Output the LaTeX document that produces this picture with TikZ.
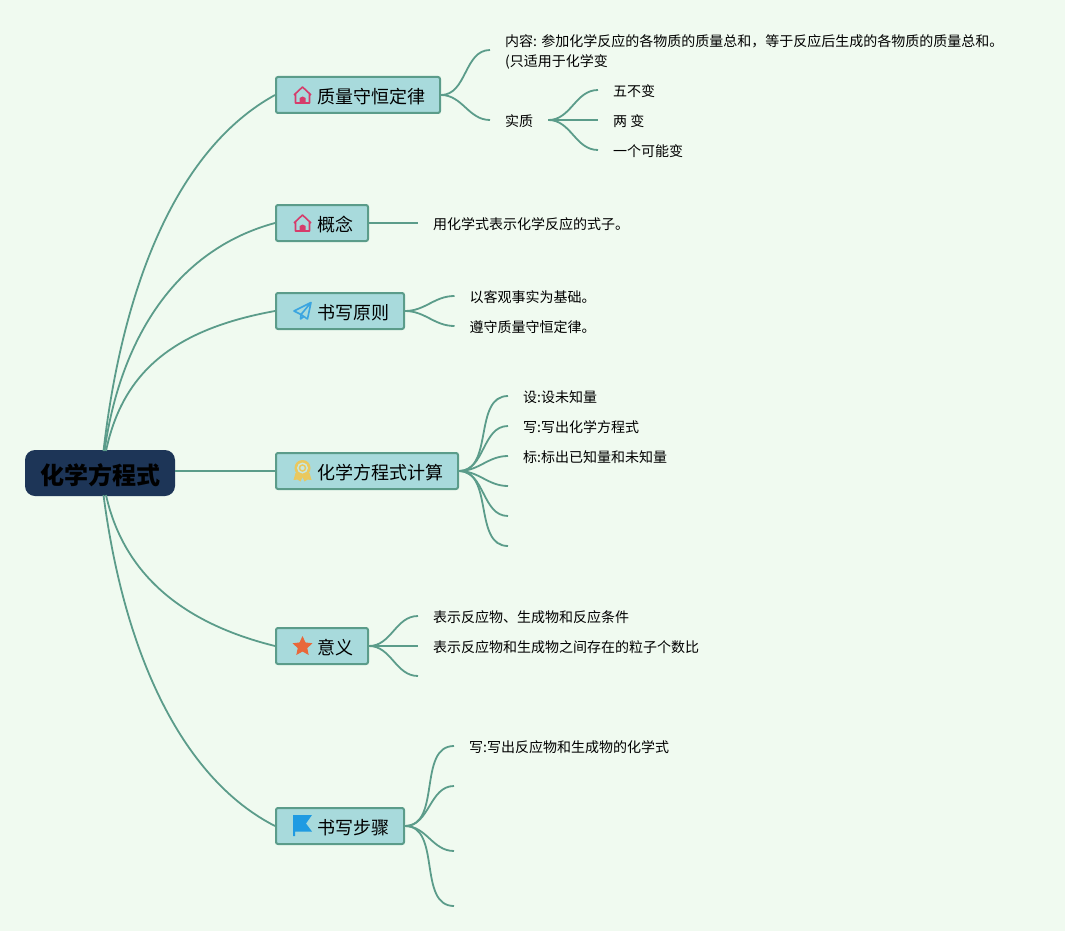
\documentclass[tikz,border=0pt]{standalone}
\usepackage{fontspec}
\setmainfont{Noto Sans CJK SC}
\usetikzlibrary{shapes.geometric}
\usepackage{xcolor}
\definecolor{pagebg}{HTML}{F0FAF0}
\definecolor{linkc}{HTML}{5B9C8A}
\definecolor{boxc}{HTML}{A8DADC}
\definecolor{rootc}{HTML}{1D3557}
\definecolor{housec}{HTML}{D63C6B}
\definecolor{planec}{HTML}{3BA5E0}
\definecolor{medalc}{HTML}{E9C85F}
\definecolor{starc}{HTML}{E8683A}
\definecolor{flagc}{HTML}{1F9BE2}
\tikzset{
	link/.style={draw=linkc,line width=1.8pt},
	rootbox/.style={fill=rootc,rounded corners=10pt,minimum width=150pt,minimum height=46pt,inner sep=0pt,text height=25pt,text depth=2.9pt,font=\fontsize{24}{28}\selectfont\bfseries},
	branchbox/.style={draw=linkc,fill=boxc,line width=2pt,rounded corners=2pt,minimum height=36pt,inner xsep=15pt,inner ysep=0pt,anchor=west,text height=19pt,text depth=2.2pt,font=\fontsize{18}{22}\selectfont},
	leaf/.style={anchor=west,inner xsep=15pt,inner ysep=0pt,text height=15.3pt,text depth=1.7pt,font=\fontsize{14}{20}\selectfont}
}
\newcommand{\houseicon}[1]{\begin{scope}[shift={(#1)}]
	\draw[housec,line width=1.6pt,line join=round] (-8.5,0)--(0,-8)--(8.5,0) (-7,-1)--(-7,8)--(7,8)--(7,-1);
	\fill[housec] (-3,8)--(-3,3)--(0,1.5)--(3,3)--(3,8)--cycle;
\end{scope}}
\newcommand{\planeicon}[1]{\begin{scope}[shift={(#1)}]
	\draw[planec,line width=1.6pt,line join=round] (-8.5,0)--(8.5,-8.5)--(5,8)--(-1.5,3.5)--cycle (8.5,-8.5)--(-1.5,3.5)--(-2,8)--(1.5,5.5);
\end{scope}}
\newcommand{\medalicon}[1]{\begin{scope}[shift={(#1)}]
	\fill[medalc] (-7,2)--(-9,9)--(-5,8.5)--(-2,10.5)--(0,6)--(2,10.5)--(5,8.5)--(9,9)--(7,2)--cycle;
	\fill[medalc] (0,-3) circle (8);
	\fill[pagebg!40!boxc] (0,-3) circle (5.5);
	\draw[medalc,line width=1.5pt] (0,-3) circle (3);
\end{scope}}
\newcommand{\flagicon}[1]{\begin{scope}[shift={(#1)}]
	\fill[flagc] (-9.5,-11)--(9.5,-11)--(3.5,-2.5)--(9.5,5.5)--(-7.5,5.5)--(-7.5,10)--(-9.5,10)--cycle;
\end{scope}}
\begin{document}
\begin{tikzpicture}[x=1pt,y=-1pt]
	\useasboundingbox (0,0) rectangle (1065,931);
	\fill[pagebg] (0,0) rectangle (1065,931);
	% root and its start points
	\node[rootbox] (root) at (100,473) {化学方程式};
	\coordinate (rootup) at (103.5,451);
	\coordinate (rootupb) at (104.5,451);
	\coordinate (rootupc) at (106,451);
	\coordinate (rootdown) at (103.5,495);
	\coordinate (rootdownb) at (106,495);
	\coordinate (rootmid) at (175,471);
	% branches
	\node[branchbox] (mass) at (275,95) {\hspace{26pt}质量守恒定律};
	\node[branchbox] (idea) at (275,223) {\hspace{26pt}概念};
	\node[branchbox] (rule) at (275,311) {\hspace{26pt}书写原则};
	\node[branchbox] (calc) at (275,471) {\hspace{26pt}化学方程式计算};
	\node[branchbox] (sense) at (275,646) {\hspace{26pt}意义};
	\node[branchbox] (steps) at (275,826) {\hspace{26pt}书写步骤};
	\houseicon{302.5,95}
	\houseicon{302.5,223}
	\planeicon{302.5,311}
	\medalicon{302.5,471}
	\node[star,star points=5,star point ratio=2.1,fill=starc,minimum size=21pt,inner sep=0pt] (staricon) at (302.5,646.5) {};
	\flagicon{302.5,826}
	% leaves
	\node[leaf,align=left,text height=,text depth=] (content) at (490,50) {\rule{0pt}{16.3pt}内容: 参加化学反应的各物质的质量总和，等于反应后生成的各物质的质量总和。\\(只适用于化学变};
	\node[leaf] (essence) at (490,120) {实质};
	\node[leaf] (five) at (598,90) {五不变};
	\node[leaf] (two) at (598,120) {两 变};
	\node[leaf] (maybe) at (598,150) {一个可能变};
	\node[leaf] (define) at (418,223) {用化学式表示化学反应的式子。};
	\node[leaf] (fact) at (454.5,296) {以客观事实为基础。};
	\node[leaf] (obey) at (454.5,326) {遵守质量守恒定律。};
	\node[leaf] (set) at (508,396) {设:设未知量};
	\node[leaf] (write) at (508,426) {写:写出化学方程式};
	\node[leaf] (mark) at (508,456) {标:标出已知量和未知量};
	\coordinate (calcd) at (508,486);
	\coordinate (calce) at (508,516);
	\coordinate (calcf) at (508,546);
	\node[leaf] (show) at (418,616) {表示反应物、生成物和反应条件};
	\node[leaf] (ratio) at (418,646) {表示反应物和生成物之间存在的粒子个数比};
	\coordinate (sensec) at (418,676);
	\node[leaf] (formula) at (454,746) {写:写出反应物和生成物的化学式};
	\coordinate (stepb) at (454,786);
	\coordinate (stepc) at (454,851);
	\coordinate (stepd) at (454,906);
	% root connectors
	\draw[link] (rootup) .. controls (122,290) and (175,150) .. (mass.west);
	\draw[link] (rootupb) .. controls (120,340) and (175,250) .. (idea.west);
	\draw[link] (rootupc) .. controls (122,375) and (170,330) .. (rule.west);
	\draw[link] (rootmid) -- (calc.west);
	\draw[link] (rootdownb) .. controls (125,580) and (190,625) .. (sense.west);
	\draw[link] (rootdown) .. controls (125,660) and (185,780) .. (steps.west);
	% branch connectors
	\draw[link] (mass.east) to[out=0,in=180] (content.west);
	\draw[link] (mass.east) to[out=0,in=180] (essence.west);
	\draw[link] (essence.east) to[out=0,in=180] (five.west);
	\draw[link] (essence.east) -- (two.west);
	\draw[link] (essence.east) to[out=0,in=180] (maybe.west);
	\draw[link] (idea.east) -- (define.west);
	\draw[link] (rule.east) to[out=0,in=180] (fact.west);
	\draw[link] (rule.east) to[out=0,in=180] (obey.west);
	\draw[link] (calc.east) to[out=0,in=180] (set.west);
	\draw[link] (calc.east) to[out=0,in=180] (write.west);
	\draw[link] (calc.east) to[out=0,in=180] (mark.west);
	\draw[link] (calc.east) to[out=0,in=180] (calcd);
	\draw[link] (calc.east) to[out=0,in=180] (calce);
	\draw[link] (calc.east) to[out=0,in=180] (calcf);
	\draw[link] (sense.east) to[out=0,in=180] (show.west);
	\draw[link] (sense.east) -- (ratio.west);
	\draw[link] (sense.east) to[out=0,in=180] (sensec);
	\draw[link] (steps.east) to[out=0,in=180] (formula.west);
	\draw[link] (steps.east) to[out=0,in=180] (stepb);
	\draw[link] (steps.east) to[out=0,in=180] (stepc);
	\draw[link] (steps.east) to[out=0,in=180] (stepd);
\end{tikzpicture}
\end{document}
